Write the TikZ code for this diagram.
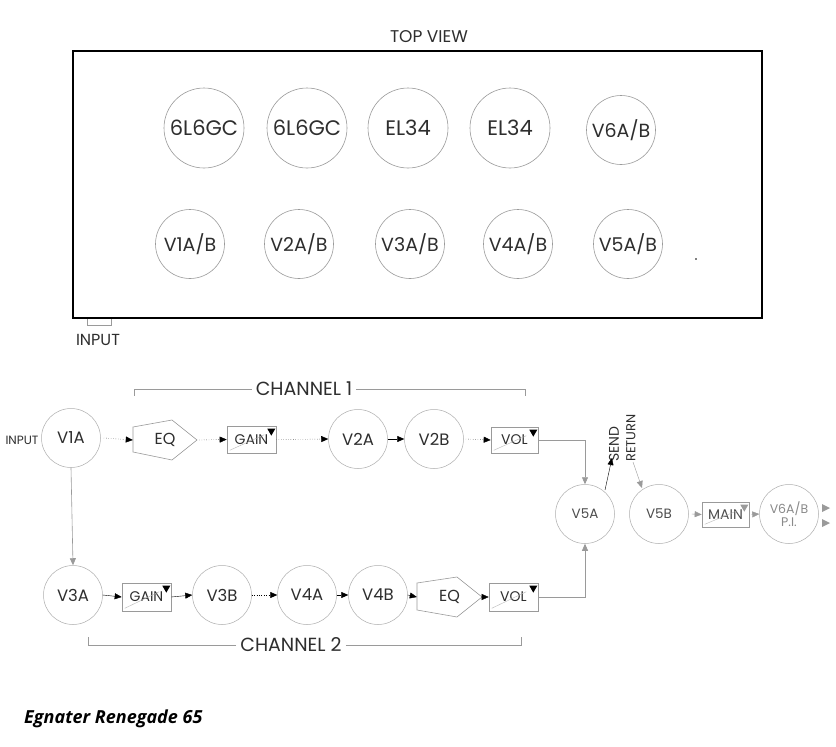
\documentclass[tikz,border=0pt]{standalone}
\usepackage{fontspec}
\setmainfont{Poppins}
\newfontfamily\titlefont{Open Sans}
\usetikzlibrary{arrows.meta}
\definecolor{ink}{HTML}{2E2E2E}
\definecolor{lightink}{HTML}{8A8A8A}
\definecolor{linegray}{HTML}{9A9A9A}
\tikzset{
  bigtube/.style={circle,draw=linegray,line width=0.6pt,minimum size=80pt,inner sep=0pt,text=ink,font=\fontsize{21}{21}\selectfont},
  smalltube/.style={circle,draw=linegray,line width=0.6pt,minimum size=69pt,inner sep=0pt,text=ink,font=\fontsize{19}{19}\selectfont},
  tube/.style={circle,draw=linegray!80,line width=0.5pt,minimum size=59pt,inner sep=0pt,text=ink,font=\fontsize{16.5}{16.5}\selectfont},
  potbox/.style={rectangle,draw=linegray,line width=0.6pt,inner sep=0pt,text=ink,font=\fontsize{14}{14}\selectfont},
  lbl/.style={text=ink,inner sep=0pt,font=\fontsize{12}{12}\selectfont},
  chan/.style={text=ink,inner sep=0pt,font=\fontsize{19}{19}\selectfont},
  blk/.style={-{Triangle[length=7pt,width=6pt]},black},
  gry/.style={-{Triangle[length=7pt,width=6pt]},linegray},
  dotline/.style={dotted,draw=linegray},
  wire/.style={draw=linegray,line width=0.6pt},
}
\newcommand\potmark[2]{\fill[#2] ([xshift=-9pt,yshift=-3pt]#1.north east) -- ++(8,0) -- ++(-4,7) -- cycle;
  \draw[linegray!70,line width=0.4pt] ([xshift=3pt,yshift=3pt]#1.south west) -- ([xshift=-12pt,yshift=-9pt]#1.north east);}
\begin{document}
\begin{tikzpicture}[x=1pt,y=-1pt]
\useasboundingbox[fill=white] (0,0) rectangle (836,747);
% top view
\node[lbl,font=\fontsize{17}{17}\selectfont] (tv) at (429,37) {TOP VIEW};
\draw[black,line width=2.6pt] (73,51) rectangle (762,318);
\node[bigtube] (p1) at (204,128) {6L6GC};
\node[bigtube] (p2) at (307,128) {6L6GC};
\node[bigtube] (p3) at (408,128) {EL34};
\node[bigtube] (p4) at (510,128) {EL34};
\node[smalltube] (p5) at (621,130) {V6A/B};
\node[smalltube] (s1) at (190,244) {V1A/B};
\node[smalltube] (s2) at (299,244) {V2A/B};
\node[smalltube] (s3) at (410,244) {V3A/B};
\node[smalltube] (s4) at (518,244) {V4A/B};
\node[smalltube] (s5) at (628,244) {V5A/B};
\fill[black] (696,259) circle (0.9);
\draw[linegray,line width=0.5pt] (87,319) -- (87,325) -- (111,325) -- (111,319);
\node[lbl,font=\fontsize{16}{16}\selectfont] (inlbl) at (98,340) {INPUT};

% channel 1 bracket
\node[chan] (ch1) at (304,389) {CHANNEL 1};
\draw[wire] (ch1.west) ++(-4,0) -- (134,389) -- (134,396);
\draw[wire] (ch1.east) ++(4,0) -- (525,389) -- (525,396);

% row 1
\node[lbl] (input) at (22,440) {INPUT};
\node[tube] (v1a) at (71,438) {V1A};
\node[draw=none,minimum width=64pt,minimum height=40pt,inner sep=0pt,lbl,font=\fontsize{16}{16}\selectfont] (eq1) at (165,440) {EQ};
\draw[linegray,line width=0.6pt] (133,427) -- (172,420) -- (197,440) -- (172,460) -- (133,452) -- cycle;
\node[potbox,minimum width=49pt,minimum height=27pt] (g1) at (251.5,439.5) {GAIN};
\potmark{g1}{black}
\node[tube] (v2a) at (358,439) {V2A};
\node[tube] (v2b) at (434,439) {V2B};
\node[potbox,minimum width=47pt,minimum height=26pt] (vol1) at (514.5,440) {VOL};
\potmark{vol1}{black}

\draw[dotline,blk] (v1a.east) ++(3,0) -- (eq1.west);
\draw[dotline,blk] (eq1.east) ++(2,0) -- (g1.west);
\draw[dotline,blk] (g1.east) -- (v2a.west);
\draw[linegray,blk] (v2a.east) -- (v2b.west);
\draw[dotline,blk] (v2b.east) ++(2,0) -- (vol1.west);

% right part
\node[tube,text=ink!85,font=\fontsize{13.5}{13.5}\selectfont] (v5a) at (585,514) {V5A};
\node[tube,text=ink!85,font=\fontsize{13.5}{13.5}\selectfont] (v5b) at (659,514) {V5B};
\node[potbox,minimum width=47pt,minimum height=25pt,text=ink!85,font=\fontsize{14}{14}\selectfont] (main) at (725.5,514.5) {MAIN};
\potmark{main}{linegray}
\node[tube,text=lightink,align=center,font=\fontsize{12.5}{12.5}\selectfont] (v6) at (789,514) {V6A/B\\[1pt]P.I.};
\node[lbl,rotate=90,anchor=west,font=\fontsize{14}{14}\selectfont] (send) at (614,462) {SEND};
\node[lbl,rotate=90,anchor=west,font=\fontsize{13}{13}\selectfont] (ret) at (631,462) {RETURN};

\draw[wire,gry] (vol1.east) -| (v5a.north);
\draw[linegray,blk] (605,490) -- (612,458);
\draw[linegray,gry] (633,462) -- (642,488);
\draw[gry] (v5b.east) ++(3,0) -- (main.west);
\draw[gry] (main.east) ++(2,0) -- (v6.west);
\fill[linegray] (822,504) -- (830,508) -- (822,512) -- cycle;
\fill[linegray] (822,519) -- (830,523) -- (822,527) -- cycle;

% row 2
\node[tube] (v3a) at (73,595) {V3A};
\node[potbox,minimum width=49pt,minimum height=28pt] (g2) at (146.5,597) {GAIN};
\potmark{g2}{black}
\node[tube] (v3b) at (222,595) {V3B};
\node[tube] (v4a) at (307,595) {V4A};
\node[tube] (v4b) at (378,595) {V4B};
\node[draw=none,minimum width=65pt,minimum height=40pt,inner sep=0pt,lbl,font=\fontsize{16}{16}\selectfont] (eq2) at (449.5,597) {EQ};
\draw[linegray,line width=0.6pt] (417,583) -- (457,577) -- (482,597) -- (457,617) -- (417,610) -- cycle;
\node[potbox,minimum width=49pt,minimum height=28pt] (vol2) at (513.5,597) {VOL};
\potmark{vol2}{black}

\draw[wire,gry] (v1a.south) -- (v3a.north);
\draw[linegray,blk] (v3a.east) -- (g2.west);
\draw[linegray,blk] (g2.east) -- (v3b.west);
\draw[dotline,blk] (v3b.east) -- (v4a.west);
\draw[linegray,blk] (v4a.east) -- (v4b.west);
\draw[linegray,blk] (v4b.east) -- (eq2.west);
\draw[linegray,blk] (eq2.east) -- (vol2.west);
\draw[wire,gry] (vol2.east) -| (v5a.south);

% channel 2 bracket
\node[chan] (ch2) at (291,645) {CHANNEL 2};
\draw[wire] (ch2.west) ++(-4,0) -- (88,645) -- (88,637);
\draw[wire] (ch2.east) ++(4,0) -- (521,645) -- (521,637);

\node[anchor=west,inner sep=0pt,font=\titlefont\bfseries\itshape\fontsize{18}{18}\selectfont] (title) at (24,719) {Egnater Renegade 65};
\end{tikzpicture}
\end{document}
